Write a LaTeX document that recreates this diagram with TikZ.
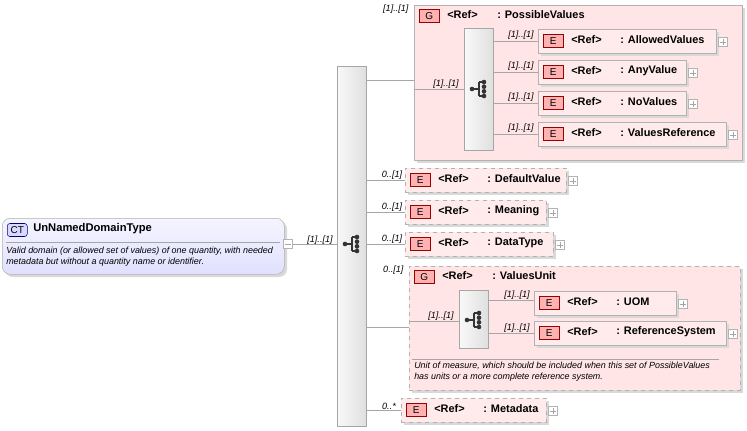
\documentclass[tikz,border=0pt]{standalone}
\usepackage{fontspec}
\setmainfont{Liberation Sans}
\usetikzlibrary{calc}
\begin{document}
\begin{tikzpicture}[x=0.75pt,y=-0.75pt,
  font=\fontsize{7.5}{9}\selectfont,
  conn/.style={draw=gray!70,line width=0.5pt},
  mult/.style={font=\fontsize{6.8}{7}\selectfont\itshape,anchor=south,inner sep=1pt},
  elembox/.style={draw=gray!60,fill=red!8,anchor=north west,inner sep=0pt},
  grpbox/.style={draw=gray!60,fill=red!10,anchor=north west,inner sep=0pt},
  seqbar/.style={draw=gray!70,left color=gray!5,right color=gray!25,anchor=north west,inner sep=0pt},
  icon/.style={draw=red!60!black,fill=red!30,minimum width={20*0.75pt},minimum height={13*0.75pt},inner sep=0pt,anchor=west,font=\fontsize{7.5}{8}\selectfont},
  lbl/.style={anchor=west,inner sep=0pt,font=\fontsize{8.2}{9}\selectfont\bfseries},
  plusbox/.style={draw=gray!60,fill=white,minimum size={9*0.75pt},inner sep=0pt,anchor=west}
]
\useasboundingbox (0,0) rectangle (747,430);
\newcommand\seqicon[1]{%
  \draw[black!80,line width=0.8pt] ($(#1)+(-7,0)$) -- ($(#1)+(0,0)$) ($(#1)+(0,-7)$) -- ($(#1)+(0,7)$)
    ($(#1)+(0,-7)$) -- ($(#1)+(5,-7)$) ($(#1)+(0,7)$) -- ($(#1)+(5,7)$);
  \fill[black!80] ($(#1)+(-7,0)$) circle (2.3);
  \fill[black!80] ($(#1)+(5,-7)$) circle (2.3) ($(#1)+(5,-2.3)$) circle (2.3) ($(#1)+(5,2.3)$) circle (2.3) ($(#1)+(5,7)$) circle (2.3);}
\newcommand\elem[6]{%
  \fill[gray!30] (#2+3,#3+3) rectangle (#2+#4+3,#3+27);
  \node[elembox,#6,minimum width={#4*0.75pt},minimum height={24*0.75pt}] (#1) at (#2,#3) {};
  \node[icon] (#1i) at (#2+5,#3+12) {E};
  \node[lbl] at (#2+33,#3+11) {<Ref>};
  \node[lbl] at (#2+82,#3+11) {: #5};
  \node[plusbox] (#1p) at (#2+#4+2,#3+13) {};
  \draw[gray!70,line width=0.4pt] ($(#1p.center)+(-3,0)$) -- ($(#1p.center)+(3,0)$) ($(#1p.center)+(0,-3)$) -- ($(#1p.center)+(0,3)$);}

% CT box
\fill[gray!30,rounded corners=6] (5,221) rectangle (287,277);
\node[draw=gray!60,rounded corners=6,top color=blue!4,bottom color=blue!12,anchor=north west,minimum width={282*0.75pt},minimum height={56*0.75pt},inner sep=0pt] (ct) at (2,218) {};
\node[draw=blue!50!black,fill=blue!15,rounded corners=2,minimum width={20*0.75pt},minimum height={13*0.75pt},inner sep=0pt,anchor=west,font=\fontsize{7.5}{8}\selectfont] at (7,230) {CT};
\node[lbl,font=\fontsize{8.4}{9}\selectfont\bfseries] at (33,229) {UnNamedDomainType};
\draw[gray!70] (6,242) -- (280,242);
\node[anchor=north west,inner sep=0pt,font=\fontsize{6.7}{8}\selectfont\itshape,align=left] at (6,247) {Valid domain (or allowed set of values) of one quantity, with needed\\metadata but without a quantity name or identifier.};
\node[plusbox] (ctm) at (283,244) {};
\draw[gray!70,line width=0.4pt] ($(ctm.center)+(-3,0)$) -- ($(ctm.center)+(3,0)$);

% main sequence
\node[seqbar,minimum width={29*0.75pt},minimum height={360*0.75pt}] (seq) at (337,66) {};
\draw[conn] (ctm.east) -- (seq.west|-0,244);
\node[mult] at (320,246) {[1]..[1]};
\seqicon{352,244}

% PossibleValues group
\fill[gray!30] (417,8) rectangle (745,163);
\node[grpbox,minimum width={328*0.75pt},minimum height={155*0.75pt}] (pv) at (414,5) {};
\node[mult,anchor=north east] at (410,3) {[1]..[1]};
\draw[conn] (366,80) -- (pv.west|-0,80);
\node[icon] at (419,16) {G};
\node[lbl] at (447,15) {<Ref>};
\node[lbl] at (497,15) {: PossibleValues};
\node[seqbar,minimum width={29*0.75pt},minimum height={122*0.75pt}] (pvs) at (464,28) {};
\draw[conn] (414,89) -- (pvs.west|-0,89);
\node[mult] at (446,90) {[1]..[1]};
\seqicon{479,89}
\elem{av}{538}{29}{178}{AllowedValues}{}
\elem{anv}{538}{60}{148}{AnyValue}{}
\elem{nv}{538}{91}{148}{NoValues}{}
\elem{vr}{538}{122}{188}{ValuesReference}{}
\foreach \n/\y in {av/41,anv/72,nv/103,vr/134}{
  \draw[conn] (pvs.east|-0,\y) -- (\n.west|-0,\y);
  \node[mult] at (521,\y) {[1]..[1]};}

% optional elements
\elem{dv}{405}{168}{161}{DefaultValue}{dashed}
\elem{me}{405}{200}{141}{Meaning}{dashed}
\elem{dt}{405}{232}{148}{DataType}{dashed}
\elem{md}{401}{398}{145}{Metadata}{dashed}
\draw[conn] (366,180) -- (dv.west|-0,180);
\node[mult] at (392,181) {0..[1]};
\draw[conn] (366,212) -- (me.west|-0,212);
\node[mult] at (392,213) {0..[1]};
\draw[conn] (366,244) -- (dt.west|-0,244);
\node[mult] at (392,245) {0..[1]};
\draw[conn] (366,410) -- (md.west|-0,410);
\node[mult] at (389,411) {0..*};

% ValuesUnit group
\fill[gray!30] (412,269) rectangle (743,393);
\node[grpbox,dashed,minimum width={331*0.75pt},minimum height={124*0.75pt}] (vu) at (409,266) {};
\node[mult,anchor=north east] at (405,264) {0..[1]};
\draw[conn] (366,327) -- (vu.west|-0,327);
\node[icon] at (414,277) {G};
\node[lbl] at (442,276) {<Ref>};
\node[lbl] at (492,276) {: ValuesUnit};
\node[seqbar,minimum width={29*0.75pt},minimum height={58*0.75pt}] (vus) at (459,290) {};
\draw[conn] (409,321) -- (vus.west|-0,321);
\node[mult] at (441,322) {[1]..[1]};
\seqicon{474,320}
\elem{uom}{534}{291}{142}{UOM}{}
\elem{rs}{534}{321}{192}{ReferenceSystem}{}
\draw[conn] (vus.east|-0,300) -- (uom.west|-0,300);
\node[mult] at (517,301) {[1]..[1]};
\draw[conn] (vus.east|-0,333) -- (rs.west|-0,333);
\node[mult] at (517,334) {[1]..[1]};
\draw[gray!70] (412,359) -- (719,359);
\node[anchor=north west,inner sep=0pt,font=\fontsize{6.7}{8}\selectfont\itshape,align=left] at (414,362) {Unit of measure, which should be included when this set of PossibleValues\\has units or a more complete reference system.};
\end{tikzpicture}
\end{document}
